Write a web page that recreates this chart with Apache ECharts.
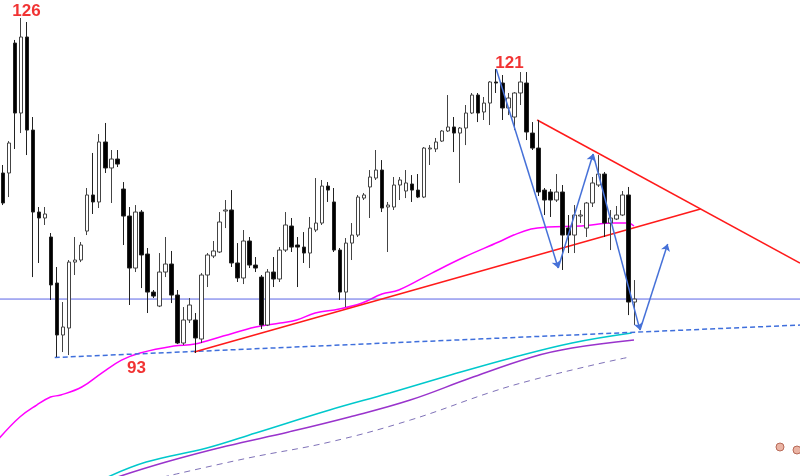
<!DOCTYPE html>
<html>
<head>
<meta charset="utf-8">
<script src="https://cdn.jsdelivr.net/npm/echarts@6/dist/echarts.min.js"></script>
<style>
html,body{margin:0;padding:0;background:#fff;}
#chart{width:800px;height:476px;}
</style>
</head>
<body>
<div id="chart"></div>
<script>
// 133 category slots (106 candles + empty space to the right)
const categories = Array.from({length: 133}, (_, i) => 'D' + (i + 1));

// [open, close, low, high]
const candles = [
[110.91,107.99,107.79,111.69],[110.91,113.83,108.57,114.02],[123.56,116.75,113.25,123.86],[116.75,124.15,114.80,126.00],
[124.15,115.09,112.66,125.61],[115.09,107.11,100.78,116.36],[107.11,106.53,102.15,107.60],[106.53,106.92,105.85,107.60],
[104.68,100.01,98.55,105.07],[100.20,95.14,93.00,101.76],[95.14,95.92,93.48,98.35],[95.82,102.24,93.19,102.44],
[102.24,102.44,100.98,104.68],[102.44,103.90,102.24,104.19],[105.26,108.77,104.87,109.45],[108.77,108.09,106.92,112.86],
[108.09,113.93,107.50,114.70],[113.93,111.40,110.91,115.78],[111.40,112.27,107.99,113.15],[112.27,111.78,111.49,113.15],
[109.35,106.72,103.90,110.03],[106.72,101.66,98.06,107.60],[101.66,107.11,101.27,107.79],[107.11,102.93,99.71,107.31],
[103.02,99.32,97.28,103.61],[99.32,98.93,98.74,99.52],[97.96,101.27,97.86,103.12],[101.27,102.05,100.78,104.68],
[102.05,99.03,98.25,103.32],[99.03,94.36,94.26,99.52],[94.36,96.60,94.16,97.86],[96.60,98.06,96.31,98.74],
[96.60,94.85,93.39,97.28],[94.75,100.98,94.36,101.17],[100.98,102.93,99.81,103.12],[102.83,103.32,102.63,104.29],
[103.22,106.14,103.12,107.11],[107.21,107.31,105.55,108.28],[107.31,102.15,101.76,109.25],[102.15,100.69,100.30,104.09],
[100.69,104.29,100.10,105.36],[104.29,101.95,101.66,104.68],[101.95,101.66,101.27,102.73],[100.78,96.11,95.72,100.98],
[96.11,101.27,96.01,101.56],[101.27,100.59,99.81,102.73],[100.59,103.41,100.30,103.70],[103.41,105.85,103.22,107.11],
[105.75,103.70,103.22,106.53],[103.90,103.70,99.81,104.68],[103.70,103.12,102.15,105.16],[103.12,105.55,101.66,106.63],
[105.36,106.04,105.16,110.42],[106.04,109.64,105.85,110.23],[109.64,109.25,108.09,110.03],[108.09,103.41,103.22,109.45],
[103.41,99.32,98.55,103.61],[99.32,104.09,97.86,104.58],[104.09,104.87,102.44,106.04],[104.87,108.57,104.68,108.77],
[108.47,108.77,108.28,108.96],[109.55,110.52,106.53,111.20],[110.42,111.20,110.23,113.15],[111.20,107.50,107.11,112.17],
[107.60,107.79,103.22,108.09],[107.60,109.74,107.31,110.52],[109.74,110.23,108.28,110.52],[109.16,109.94,108.47,111.20],
[109.84,109.25,108.09,110.71],[109.25,108.57,108.47,110.81],[108.57,113.34,108.47,113.44],[113.25,113.34,111.69,113.63],
[113.25,113.93,112.95,114.32],[114.02,115.00,113.93,115.09],[115.00,115.39,114.90,118.50],[115.39,114.80,112.95,116.36],
[114.80,115.29,109.94,115.39],[115.29,116.75,113.63,117.53],[116.75,118.50,116.65,118.70],[118.50,116.75,115.87,118.70],
[116.85,117.72,116.07,118.31],[117.72,119.77,115.58,119.86],[119.77,119.67,118.70,121.03],[119.67,117.24,116.07,120.45],
[117.24,118.21,116.55,118.70],[116.36,118.70,115.09,118.79],[118.70,119.77,117.53,120.74],[119.67,114.90,114.12,120.74],
[114.80,113.34,113.15,115.87],[113.34,109.06,108.67,116.07],[109.25,108.28,106.82,109.45],[109.06,108.28,106.63,109.35],
[108.28,109.06,108.09,110.81],[109.06,104.87,101.47,109.74],[105.55,104.87,103.12,106.82],[104.87,106.82,103.12,107.79],
[106.72,106.82,106.04,107.31],[105.55,107.99,104.68,108.09],[107.99,109.94,107.60,110.52],[109.74,110.81,109.55,112.66],
[110.81,106.04,104.68,111.01],[106.04,106.53,103.41,107.31],[106.43,106.82,106.33,107.70],[106.82,108.77,106.72,109.16],
[108.77,98.35,97.08,109.55],[98.35,98.64,96.11,100.49]
];

// moving-average style curves: [slot position, price]
const maMagenta = [[-0.6,85.10],[2.8,87.16],[5.6,88.32],[7.9,89.10],[9.6,89.30],[13.1,90.08],[16.4,91.44],[19.7,92.70],
[22.8,93.39],[28.4,94.07],[31.9,94.26],[36.6,95.04],[42.0,95.92],[46.1,96.31],[48.8,96.60],[51.9,97.28],[55.9,97.67],
[59.7,98.25],[63.0,99.13],[65.8,99.52],[71.3,101.17],[76.7,102.73],[82.4,104.19],[84.9,104.87],[87.8,105.46],[90.6,105.65],
[96.1,105.75],[101.6,106.04],[103.9,106.04],[104.9,105.75]];
const maCyan = [[16.7,81.12],[23.8,82.77],[33.9,84.14],[42.0,85.60],[54.3,87.84],[64.3,89.49],[74.4,91.24],[84.5,92.90],
[94.6,94.36],[104.5,95.33]];
const maPurple = [[18.0,81.12],[27.1,82.77],[37.2,84.33],[47.5,85.70],[57.6,87.16],[67.7,88.81],[77.7,90.95],[88.0,93.00],
[94.6,93.87],[104.9,94.65]];
const maDashed = [[26.6,81.31],[40.7,83.16],[54.3,84.72],[67.7,86.86],[81.2,89.59],[88.0,90.76],[98.1,92.22],[104.2,93.00]];

// drawn trend lines
const hLine = [[-0.5,98.64],[132.5,98.64]];
const supportDashed = [[8.6,92.95],[132.5,96.11]];
const supportRed = [[31.8,93.48],[115.96,107.40]];
const resistRed = [[88.8,116.07],[132.5,102.15]];
const zigzag = [[82.0,121.03],[92.3,101.66],[98.1,112.76],[105.9,95.62],[110.5,104.00]];

// price labels
const priceLabels = [
  {name:'126', value:[3.9,126.68]},
  {name:'121', value:[84.2,121.62]},
  {name:'93', value:[22.2,91.93]}
];

const chart = echarts.init(document.getElementById('chart'), null, {renderer:'canvas'});

const zigSegs = [];
for (let k = 0; k < zigzag.length - 1; k++) zigSegs.push({coords:[zigzag[k], zigzag[k+1]]});

function curve(data, color, width, type, smooth) {
  return {type:'line', xAxisIndex:1, yAxisIndex:0, data:data, showSymbol:false, symbol:'none',
    smooth:smooth || false,
    lineStyle:{color:color, width:width, type:type||'solid'}, silent:true, z:3};
}

chart.setOption({
  animation:false,
  backgroundColor:'#ffffff',
  grid:{left:-4, right:0, top:0, bottom:0},
  xAxis:[
    {type:'category', data:categories, boundaryGap:true, show:false},
    {type:'value', min:-0.5, max:132.5, show:false}
  ],
  yAxis:[{type:'value', min:81.415, max:127.752, show:false, scale:true}],
  series:[
    curve(maMagenta,'#ff00ff',1.5,'solid',0.4),
    curve(maCyan,'#00c8cc',1.5,'solid',0.4),
    curve(maPurple,'#9933cc',1.5,'solid',0.4),
    curve(maDashed,'#7f72b8',1,[6,5],0.4),
    curve(hLine,'#5a64e6',1),
    curve(supportDashed,'#3f6fdc',1.5,[5,3]),
    curve(supportRed,'#ff1a1a',1.5),
    curve(resistRed,'#ff1a1a',1.5),
    {
      type:'candlestick', xAxisIndex:0, yAxisIndex:0, data:candles, barWidth:4, z:4,
      itemStyle:{color:'#ffffff', color0:'#000000', borderColor:'#444444', borderColor0:'#222222', borderWidth:1}
    },
    {
      type:'lines', coordinateSystem:'cartesian2d', xAxisIndex:1, yAxisIndex:0, data:zigSegs, z:5,
      symbol:['none','arrow'], symbolSize:7,
      lineStyle:{color:'#4671d8', width:1.5, opacity:1}
    },
    {
      type:'scatter', xAxisIndex:1, yAxisIndex:0, data:priceLabels, symbol:'circle', symbolSize:2, z:6,
      itemStyle:{color:'rgba(255,255,255,0)'},
      label:{show:true, position:'inside', formatter:'{b}', color:'#ee0000', textBorderWidth:0, textBorderColor:'transparent',
        fontSize:17, fontWeight:'bold', fontFamily:'Liberation Sans'}
    }
  ],
  graphic:[
    {type:'circle', shape:{cx:780, cy:447, r:4}, style:{fill:'#eab4a4', stroke:'#b86a58', lineWidth:1}},
    {type:'circle', shape:{cx:797, cy:450, r:4}, style:{fill:'#eab4a4', stroke:'#b86a58', lineWidth:1}}
  ]
});
</script>
</body>
</html>
